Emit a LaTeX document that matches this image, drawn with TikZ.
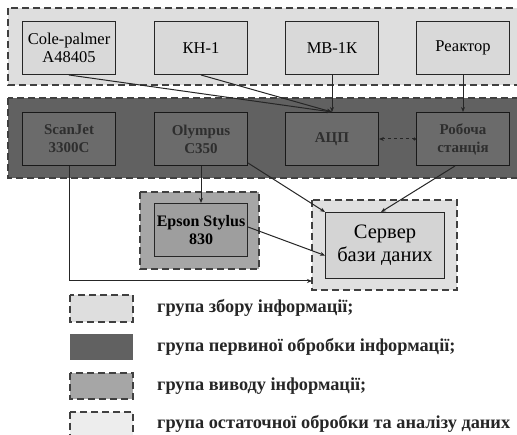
\documentclass[tikz,border=0pt]{standalone}
\usepackage{fontspec}
\setmainfont{Liberation Serif}
\usetikzlibrary{arrows.meta}
\begin{document}
\begin{tikzpicture}[x=1pt,y=-1pt,
  lightgrp/.style={draw=black!75,fill=black!13,line width=1.1pt,dash pattern=on 7pt off 4pt},
  darkgrp/.style={draw=black!75,fill=black!62,line width=1.1pt,dash pattern=on 7pt off 4pt},
  midgrp/.style={draw=black!75,fill=black!35,line width=1.1pt,dash pattern=on 7pt off 4pt},
  servgrp/.style={draw=black!75,fill=black!12,line width=1.1pt,dash pattern=on 7pt off 4pt},
  lastgrp/.style={draw=black!75,fill=black!7,line width=1.1pt,dash pattern=on 7pt off 4pt},
  dev/.style={draw=black!85,line width=1pt,fill=black!15,minimum width=93pt,minimum height=53pt,
    align=center,inner sep=1pt,font=\fontsize{16.5}{18}\selectfont,anchor=north west},
  ddev/.style={dev,fill=black!58,draw=black!90,text=black!82,font=\fontsize{15}{18}\selectfont\bfseries},
  conn/.style={line width=1pt,draw=black!85,-{Stealth[length=5pt,width=4pt]}},
  legtext/.style={anchor=west,font=\fontsize{18.3}{20}\selectfont\bfseries,text=black!85,inner sep=0pt}]
\useasboundingbox (0,0) rectangle (517,435);
\fill[white] (0,0) rectangle (517,435);
% groups
\draw[lightgrp] (8,8) rectangle (530,85);
\draw[darkgrp] (8,98) rectangle (530,178);
\draw[midgrp] (140,192) rectangle (259,269);
\draw[servgrp] (312,200) rectangle (457,290);
% top row
\node[dev] (cole) at (22,21) {Cole-palmer\\A48405};
\node[dev] (kh) at (154,21) {КН-1};
\node[dev] (mb) at (285,21) {МВ-1К};
\node[dev] (reak) at (416,21) {Реактор};
% dark row
\node[ddev] (scan) at (22,112) {ScanJet\\3300C};
\node[ddev] (oly) at (154,112) {Olympus\\C350};
\node[ddev] (adc) at (285,112) {АЦП};
\node[ddev] (ws) at (416,112) {Робоча\\станція};
% output / server
\node[dev,fill=black!38,minimum width=93pt,minimum height=53pt,font=\fontsize{16}{18}\selectfont\bfseries] (eps) at (154,203) {Epson Stylus\\830};
\node[dev,fill=black!17,minimum width=119pt,minimum height=66pt,font=\fontsize{20.5}{23}\selectfont] (serv) at (325,212) {Сервер\\бази даних};
\coordinate (servgrpw) at (312,281);
% connectors
\draw[conn] (cole.south) -- (adc.north);
\draw[conn] (kh.south) -- (adc.north);
\draw[conn] (mb.south) -- (adc.north);
\draw[conn] (reak.south) -- (ws.north);
\draw[line width=1pt,draw=black!85,dashed,{Stealth[length=5pt,width=4pt]}-{Circle[length=3pt]}] (adc.east) -- (ws.west);
\draw[conn] (oly.south) -- (eps.north);
\draw[conn] (oly.south east) ++(0,-3) -- (serv.north west);
\draw[conn] (ws.south) ++(-8,0) -- ([xshift=-4pt]serv.north);
\draw[conn] (eps.east) ++(0,-3) -- ([yshift=-10pt]serv.west);
\draw[conn] (scan.south) |- (servgrpw);
% legend
\draw[lightgrp] (70,295) rectangle (133,322);
\node[legtext] (l1) at (157,308) {група збору інформації;};
\fill[black!62] (70,334) rectangle (133,360);
\node[legtext] (l2) at (157,347) {група первиної обробки інформації;};
\draw[midgrp] (70,373) rectangle (133,399);
\node[legtext] (l3) at (157,386) {група виводу інформації;};
\draw[lastgrp] (70,412) rectangle (133,440);
\node[legtext] (l4) at (157,424) {група остаточної обробки та аналізу даних};
\end{tikzpicture}
\end{document}
